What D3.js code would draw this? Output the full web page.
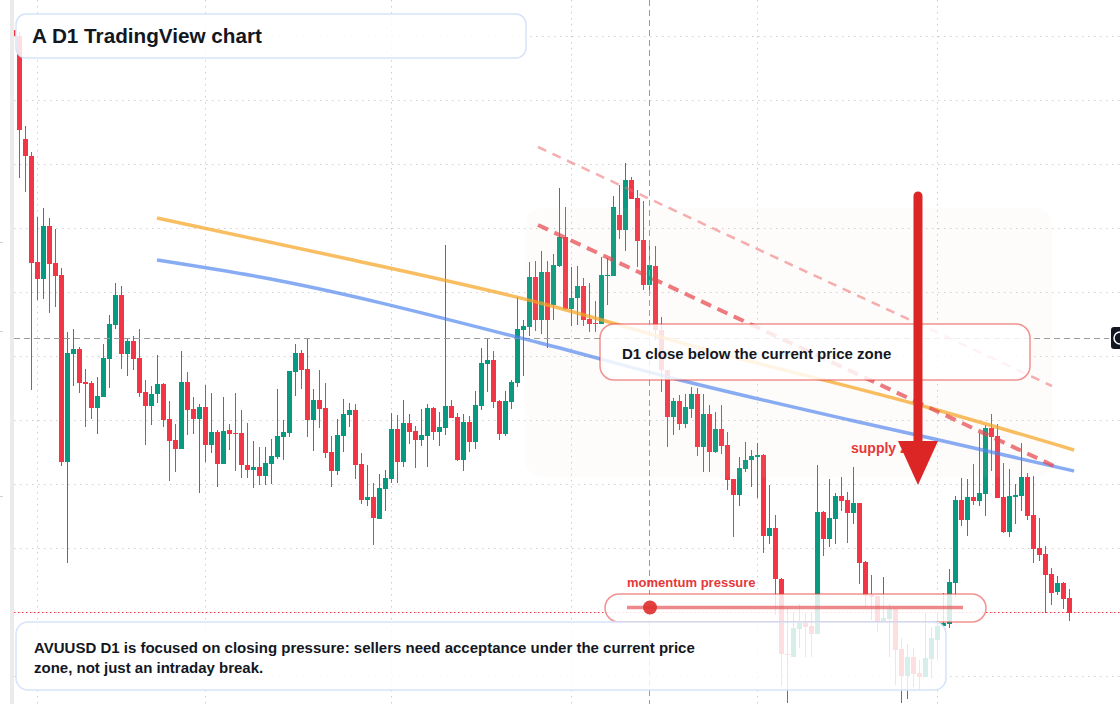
<!DOCTYPE html>
<html>
<head>
<meta charset="utf-8">
<script src="https://cdn.jsdelivr.net/npm/d3@7"></script>
<style>
  html, body { margin: 0; padding: 0; background: #fff; }
  svg { display: block; font-family: "Liberation Sans", Arial, sans-serif; }
</style>
</head>
<body>
<div class="chart"></div>
<script>
// AVUUSD, D1 candles, first bar on 2025-01-28
const startDay = Date.UTC(2025, 0, 28);

const open = [
  .970,.964,.861,.844,.738,.721,.774,.737,.725,.538,
  .646,.651,.618,.617,.592,.603,.641,.675,.705,.646,
  .659,.642,.608,.594,.606,.616,.581,.560,.551,.618,
  .591,.581,.593,.555,.568,.536,.570,.567,.567,.535,
  .530,.533,.524,.536,.543,.563,.567,.628,.647,.631,
  .580,.600,.592,.548,.529,.564,.585,.590,.536,.500,
  .503,.481,.511,.521,.571,.538,.577,.569,.560,.564,
  .592,.568,.572,.594,.583,.540,.578,.558,.594,.636,
  .640,.599,.566,.598,.617,.670,.673,.723,.680,.728,
  .695,.734,.763,.691,.702,.714,.681,.677,.676,.724,
  .724,.785,.770,.820,.802,.760,.715,.734,.670,.630,
  .583,.599,.576,.591,.606,.553,.586,.548,.571,.555,
  .521,.505,.531,.540,.543,.545,.464,.472,.421,.346,
  .343,.371,.377,.374,.366,.488,.461,.481,.504,.500,
  .487,.497,.438,.405,.404,.379,.381,.391,.351,.324,
  .343,.327,.323,.341,.360,.374,.376,.417,.500,.480,
  .503,.499,.506,.572,.564,.503,.468,.503,.504,.523,
  .485,.452,.446,.426,.408,.417,.402
];
const high = [
  .972,.968,.874,.848,.783,.792,.782,.771,.732,.668,
  .671,.653,.631,.619,.623,.656,.685,.717,.714,.661,
  .664,.671,.620,.614,.645,.617,.599,.576,.649,.628,
  .603,.596,.615,.607,.570,.603,.576,.607,.590,.577,
  .559,.553,.553,.561,.611,.580,.629,.656,.650,.662,
  .611,.630,.617,.564,.581,.601,.597,.596,.547,.535,
  .517,.526,.530,.587,.585,.600,.586,.574,.591,.596,
  .593,.588,.755,.600,.587,.586,.584,.609,.652,.662,
  .649,.600,.609,.620,.703,.680,.738,.739,.749,.739,
  .746,.812,.793,.733,.734,.722,.717,.699,.743,.742,
  .804,.815,.837,.823,.810,.799,.760,.754,.683,.630,
  .602,.605,.606,.613,.612,.606,.595,.588,.595,.568,
  .521,.543,.558,.550,.557,.546,.515,.485,.422,.392,
  .388,.396,.387,.387,.535,.489,.521,.507,.523,.508,
  .533,.497,.439,.425,.404,.423,.396,.392,.362,.356,
  .352,.340,.387,.373,.388,.407,.431,.504,.522,.521,
  .536,.567,.575,.586,.576,.537,.531,.516,.557,.527,
  .524,.482,.454,.432,.424,.418,.411
];
const low = [
  .962,.822,.808,.610,.700,.701,.687,.693,.534,.437,
  .614,.607,.573,.581,.566,.603,.612,.671,.631,.624,
  .630,.603,.555,.575,.597,.573,.519,.528,.551,.565,
  .566,.507,.538,.547,.513,.536,.550,.529,.522,.522,
  .512,.515,.515,.516,.541,.540,.563,.604,.611,.563,
  .549,.572,.542,.513,.525,.548,.573,.521,.496,.494,
  .455,.481,.489,.517,.517,.533,.556,.532,.554,.533,
  .560,.554,.565,.582,.539,.529,.548,.551,.590,.608,
  .592,.560,.564,.591,.613,.624,.664,.669,.666,.652,
  .680,.733,.690,.674,.675,.674,.668,.668,.676,.695,
  .724,.761,.749,.801,.733,.710,.707,.660,.608,.553,
  .565,.570,.572,.582,.544,.528,.528,.547,.546,.510,
  .463,.494,.528,.513,.502,.447,.456,.385,.314,.297,
  .343,.352,.343,.343,.366,.444,.453,.456,.489,.457,
  .476,.416,.393,.380,.368,.379,.343,.315,.297,.301,
  .313,.310,.323,.322,.340,.372,.372,.403,.474,.464,
  .495,.494,.484,.529,.502,.467,.463,.476,.489,.480,
  .437,.439,.387,.395,.405,.391,.379
];
const close = [
  .964,.870,.844,.737,.721,.774,.736,.724,.538,.647,
  .651,.617,.616,.592,.604,.642,.676,.705,.646,.659,
  .641,.607,.594,.606,.616,.580,.559,.551,.618,.590,
  .581,.593,.555,.568,.536,.569,.566,.566,.535,.530,
  .533,.524,.537,.544,.564,.568,.629,.647,.630,.580,
  .600,.591,.547,.529,.565,.586,.590,.535,.500,.503,
  .482,.512,.522,.571,.538,.577,.568,.560,.565,.592,
  .568,.573,.594,.582,.540,.578,.558,.595,.637,.640,
  .598,.566,.599,.618,.671,.674,.723,.680,.728,.680,
  .735,.763,.691,.702,.714,.680,.676,.676,.725,.725,
  .793,.770,.820,.801,.759,.715,.735,.670,.630,.583,
  .599,.576,.593,.606,.553,.586,.548,.571,.554,.520,
  .505,.532,.540,.544,.545,.464,.472,.421,.346,.345,
  .372,.377,.373,.366,.488,.461,.482,.504,.499,.487,
  .497,.437,.404,.403,.378,.382,.391,.350,.324,.343,
  .326,.323,.342,.362,.374,.377,.418,.500,.480,.503,
  .499,.507,.572,.563,.502,.468,.504,.505,.523,.484,
  .451,.445,.425,.407,.417,.401,.387
];

// horizontal price grid levels
const gridPrices = [0.964, 0.900, 0.836, 0.772, 0.708, 0.644, 0.580, 0.516, 0.452, 0.388, 0.324];

// drawings: [bar index, price]
const orangeLine = [[23.95,.782],[56.6,.740],[87.8,.697],[114.4,.652],[152.8,.592],[176.8,.550]];
const blueLine   = [[23.95,.740],[41.1,.723],[87.8,.657],[111.1,.620],[139.4,.580],[152.8,.562],[176.8,.529]];
const dashMain   = [[87.45,.775],[173.45,.534]];
const dashUpper  = [[87.45,.853],[173.1,.614]];
const zoneBars   = [85.45, 173.1];
const zonePrices = [0.792, 0.523];
const arrowBar = 150.78, arrowFrom = 0.804, arrowTo = 0.515, arrowHead = 0.559;
const crossBar = 106, crossPrice = 0.662;

const width = 1120, height = 704;
const up = "#089981", down = "#f23645";

const dayAt = i => new Date(startDay + i * 864e5);
const x = d3.scaleUtc().domain([dayAt(0), dayAt(176)]).range([13.3, 1069.3]);
const y = d3.scaleLinear().domain([0.296, 1.0]).range([704, 0]);
const xi = i => x(dayAt(i));

const svg = d3.select(".chart").append("svg")
  .attr("width", width).attr("height", height);

svg.append("defs").append("clipPath").attr("id", "plot")
  .append("rect").attr("x", 14).attr("y", 0).attr("width", width - 14).attr("height", height);

// left strip and tiny axis marks
svg.append("rect").attr("x", 10).attr("y", 0).attr("width", 4).attr("height", height).attr("fill", "#ebebeb");
[242, 331, 496].forEach(v => svg.append("line").attr("x1", 0).attr("x2", 3)
  .attr("y1", v + 0.5).attr("y2", v + 0.5).attr("stroke", "#d0d0d0"));

// grid
const grid = svg.append("g").attr("stroke", "#cfcfcf").attr("stroke-dasharray", "1.5,4.5");
grid.selectAll("line.h").data(gridPrices).join("line")
  .attr("x1", 14).attr("x2", width)
  .attr("y1", d => Math.round(y(d)) + 0.5).attr("y2", d => Math.round(y(d)) + 0.5);
grid.selectAll("line.v").data(d3.utcMonth.range(dayAt(0), dayAt(180))).join("line")
  .attr("x1", d => Math.round(x(d)) + 0.5).attr("x2", d => Math.round(x(d)) + 0.5)
  .attr("y1", 0).attr("y2", height);

// candles
const candles = open.map((o, i) => ({ date: dayAt(i), o: o, h: high[i], l: low[i], c: close[i] }));
const cg = svg.append("g").attr("clip-path", "url(#plot)");
cg.selectAll("line.wick").data(candles).join("line")
  .attr("x1", d => Math.round(x(d.date)) + 0.5).attr("x2", d => Math.round(x(d.date)) + 0.5)
  .attr("y1", d => y(d.h)).attr("y2", d => y(d.l))
  .attr("stroke", d => d.c >= d.o ? up : down).attr("stroke-width", 1);
cg.selectAll("rect.body").data(candles).join("rect")
  .attr("x", d => Math.round(x(d.date)) - 2)
  .attr("width", 5)
  .attr("y", d => y(Math.max(d.o, d.c)))
  .attr("height", d => Math.max(1, Math.abs(y(d.o) - y(d.c))))
  .attr("fill", d => d.c >= d.o ? up : down);

// crosshair
svg.append("line").attr("x1", 14).attr("x2", 1109)
  .attr("y1", Math.round(y(crossPrice)) + 0.5).attr("y2", Math.round(y(crossPrice)) + 0.5)
  .attr("stroke", "#9b9b9b").attr("stroke-dasharray", "6,4");
svg.append("line").attr("x1", Math.round(xi(crossBar)) + 0.5).attr("x2", Math.round(xi(crossBar)) + 0.5)
  .attr("y1", 0).attr("y2", height)
  .attr("stroke", "#9b9b9b").attr("stroke-dasharray", "6,4");

// supply zone shading
svg.append("rect")
  .attr("x", xi(zoneBars[0])).attr("width", xi(zoneBars[1]) - xi(zoneBars[0]))
  .attr("y", y(zonePrices[0])).attr("height", y(zonePrices[1]) - y(zonePrices[0]))
  .attr("rx", 16).attr("fill", "#f4cfae").attr("fill-opacity", 0.065);

// trend curves
const curve = d3.line().x(d => xi(d[0])).y(d => y(d[1])).curve(d3.curveMonotoneX);
svg.append("path").attr("d", curve(orangeLine)).attr("fill", "none")
  .attr("stroke", "#f5a524").attr("stroke-opacity", 0.72).attr("stroke-width", 3.5);
svg.append("path").attr("d", curve(blueLine)).attr("fill", "none")
  .attr("stroke", "#4f84ee").attr("stroke-opacity", 0.68).attr("stroke-width", 3.5);

const straight = d3.line().x(d => xi(d[0])).y(d => y(d[1]));
svg.append("path").attr("d", straight(dashUpper)).attr("fill", "none")
  .attr("stroke", "#ef6b70").attr("stroke-opacity", 0.55).attr("stroke-width", 2.5)
  .attr("stroke-dasharray", "9,7");
svg.append("path").attr("d", straight(dashMain)).attr("fill", "none")
  .attr("stroke", "#e5484d").attr("stroke-opacity", 0.72).attr("stroke-width", 4)
  .attr("stroke-dasharray", "11,7");

// last price line
svg.append("line").attr("x1", 14).attr("x2", width)
  .attr("y1", Math.round(y(close[close.length - 1])) - 0.5).attr("y2", Math.round(y(close[close.length - 1])) - 0.5)
  .attr("stroke", down).attr("stroke-dasharray", "1.5,2.5");

// crosshair label stub at the right edge
svg.append("rect").attr("x", 1111).attr("y", 327).attr("width", 20).attr("height", 22).attr("rx", 3).attr("fill", "#131722");
svg.append("circle").attr("cx", 1120).attr("cy", 338).attr("r", 6).attr("fill", "none").attr("stroke", "#fff").attr("stroke-width", 1.5);

// callout boxes
function box(x0, y0, w, h, r, stroke) {
  svg.append("rect").attr("x", x0).attr("y", y0).attr("width", w).attr("height", h).attr("rx", r)
    .attr("fill", "#fff").attr("fill-opacity", 0.84)
    .attr("stroke", stroke).attr("stroke-width", 1.5);
}
box(16, 14, 510, 44, 10, "#d5e3fa");
svg.append("text").attr("x", 32).attr("y", 43).attr("font-size", 20.7).attr("font-weight", 700)
  .attr("fill", "#131722").text("A D1 TradingView chart");

box(600, 324, 430, 56, 14, "rgba(229,57,53,0.55)");
svg.append("text").attr("x", 622).attr("y", 359).attr("font-size", 15).attr("font-weight", 700)
  .attr("fill", "#131722").text("D1 close below the current price zone");

// momentum pressure pill
svg.append("text").attr("x", 627).attr("y", 587).attr("font-size", 13).attr("font-weight", 700)
  .attr("fill", "#e5383b").text("momentum pressure");
box(605, 594, 381, 28, 14, "rgba(229,57,53,0.55)");
svg.append("line").attr("x1", 627).attr("x2", 963).attr("y1", 607.5).attr("y2", 607.5)
  .attr("stroke", "#e5484d").attr("stroke-opacity", 0.65).attr("stroke-width", 3.5);
svg.append("circle").attr("cx", 650).attr("cy", 607.5).attr("r", 7).attr("fill", "#e03131").attr("fill-opacity", 0.92);

// bottom note
box(16, 622, 930, 68, 12, "#d5e3fa");
const note = svg.append("text").attr("font-size", 15).attr("font-weight", 700).attr("fill", "#131722");
note.append("tspan").attr("x", 34).attr("y", 653)
  .text("AVUUSD D1 is focused on closing pressure: sellers need acceptance under the current price");
note.append("tspan").attr("x", 34).attr("y", 673).text("zone, not just an intraday break.");

// supply zone label + arrow
svg.append("text").attr("x", 851).attr("y", 453).attr("font-size", 14).attr("font-weight", 700)
  .attr("fill", "#e5383b").text("supply zone");
const ax = xi(arrowBar);
svg.append("line").attr("x1", ax).attr("x2", ax).attr("y1", y(arrowFrom)).attr("y2", y(arrowHead) + 2)
  .attr("stroke", "#dc2626").attr("stroke-width", 9).attr("stroke-linecap", "round");
svg.append("path")
  .attr("d", `M${ax - 20},${y(arrowHead)} L${ax + 20},${y(arrowHead)} L${ax},${y(arrowTo)} Z`)
  .attr("fill", "#dc2626");
</script>
</body>
</html>
